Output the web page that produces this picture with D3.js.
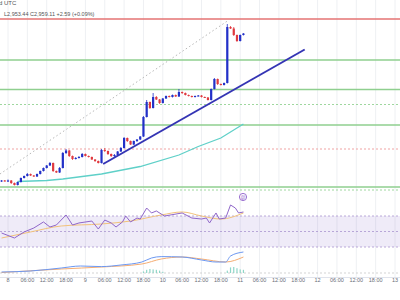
<!DOCTYPE html>
<html>
<head>
<meta charset="utf-8">
<script src="https://cdn.jsdelivr.net/npm/d3@7"></script>
<style>
  html, body { margin: 0; padding: 0; background: #fff; }
  svg { display: block; font-family: "Liberation Sans", Roboto, sans-serif; }
</style>
</head>
<body>
<svg id="chart" width="400" height="300"></svg>
<script>
// hourly candles, hour 0 = day 8 00:00 UTC
const hours = d3.range(-2, 74);
const opens = [2592.5, 2593.75, 2592.5, 2593.75, 2587.5, 2582.5, 2590, 2600, 2605, 2610,
  2606.25, 2603.75, 2610, 2617.5, 2625, 2631.25, 2637.5, 2617.5, 2613.75, 2625,
  2662.5, 2668.75, 2655, 2647.5, 2650, 2652.5, 2660, 2655, 2652.5, 2646.25,
  2642.5, 2637.5, 2670, 2667.5, 2660, 2655, 2657.5, 2666.25, 2675, 2700,
  2692.5, 2683.75, 2692.5, 2696.25, 2703.75, 2752.5, 2790, 2775, 2802.5, 2796.25,
  2787.5, 2798.75, 2805, 2802.5, 2807.5, 2803.75, 2815, 2812.5, 2807.5, 2805,
  2802.5, 2805, 2806.25, 2802.5, 2801.25, 2795, 2822.5, 2847.5, 2835, 2832.5,
  2837.5, 2977.5, 2973.75, 2957.5, 2942.5, 2957.5];
const highs = [2595, 2595, 2596.25, 2595, 2588.75, 2591.25, 2601.25, 2606.25, 2612.5, 2611.25,
  2607.5, 2611.25, 2618.75, 2626.25, 2632.5, 2640, 2638.75, 2618.75, 2627.5, 2665,
  2672.5, 2670, 2656.25, 2652.5, 2655, 2662.5, 2661.25, 2656.25, 2653.75, 2647.5,
  2643.75, 2672.5, 2675, 2668.75, 2661.25, 2660, 2667.5, 2677.5, 2702.5, 2701.25,
  2693.75, 2693.75, 2697.5, 2705, 2755, 2795, 2791.25, 2812.5, 2805, 2797.5,
  2800, 2806.25, 2806.25, 2808.75, 2808.75, 2822.5, 2816.25, 2813.75, 2808.75, 2806.25,
  2806.25, 2807.5, 2807.5, 2803.75, 2802.5, 2823.75, 2850, 2848.75, 2836.25, 2838.75,
  2985, 2980, 2977.5, 2958.75, 2958.75, 2962.5];
const lows = [2590, 2591.25, 2590, 2585, 2581.25, 2581.25, 2588.75, 2598.75, 2603.75, 2605,
  2602.5, 2602.5, 2608.75, 2616.25, 2623.75, 2630, 2615, 2612.5, 2612.5, 2623.75,
  2660, 2652.5, 2645, 2646.25, 2648.75, 2651.25, 2653.75, 2651.25, 2645, 2640,
  2636.25, 2636.25, 2665, 2657.5, 2652.5, 2652.5, 2656.25, 2665, 2673.75, 2690,
  2682.5, 2682.5, 2690, 2695, 2702.5, 2751.25, 2772.5, 2773.75, 2795, 2785,
  2786.25, 2797.5, 2801.25, 2801.25, 2802.5, 2802.5, 2810, 2806.25, 2803.75, 2801.25,
  2801.25, 2803.75, 2801.25, 2800, 2793.75, 2793.75, 2821.25, 2832.5, 2831.25, 2831.25,
  2836.25, 2972.5, 2955, 2940, 2941.25, 2956.25];
const closes = [2593.75, 2592.5, 2593.75, 2587.5, 2582.5, 2590, 2600, 2605, 2610, 2606.25,
  2603.75, 2610, 2617.5, 2625, 2631.25, 2637.5, 2617.5, 2613.75, 2625, 2662.5,
  2668.75, 2655, 2647.5, 2650, 2652.5, 2660, 2655, 2652.5, 2646.25, 2642.5,
  2637.5, 2670, 2667.5, 2660, 2655, 2657.5, 2666.25, 2675, 2700, 2692.5,
  2683.75, 2692.5, 2696.25, 2703.75, 2752.5, 2790, 2775, 2802.5, 2796.25, 2787.5,
  2798.75, 2805, 2802.5, 2807.5, 2803.75, 2815, 2812.5, 2807.5, 2805, 2802.5,
  2805, 2806.25, 2802.5, 2801.25, 2795, 2822.5, 2847.5, 2835, 2832.5, 2837.5,
  2977.5, 2973.75, 2957.5, 2942.5, 2957.5, 2961.25];

// moving average on price
const maHours = [3, 12, 17, 29, 41, 53, 59, 66, 73];
const maValues = [2591.25, 2593.75, 2597.5, 2610, 2628.75, 2657.5, 2678.75, 2700, 2735];

// drawn levels
const solidGreen = [2895, 2821.25, 2732.5, 2577.5];
const solidRed = [2997.5];
const dottedGreen = [2783.75, 2570];
const dottedRed = [2672.5];
const trendLine = [[29.5, 2635], [92, 2921.25]];
const guideLine = [[-2.5, 2610], [68.5, 2995]];

// RSI pane
const rsiHours = [-2, 2, 5, 8, 11, 13, 15, 18, 20, 22, 26, 28, 30, 32, 33.5, 35.5, 36.5, 38, 40, 41,
  43, 44.5, 46, 48.5, 54, 57, 60, 61.5, 62.5, 64.5, 65.5, 67.5, 69, 70.5, 71.5, 73];
const rsiValues = [48.1, 41.6, 49.4, 54.5, 62.3, 55.8, 58.4, 71.3, 58.4, 61, 63.5, 53.2, 64.8, 61, 55.8, 62.3, 70, 62.3, 67.4, 66.1,
  80.3, 73.9, 76.5, 70, 73.9, 67.4, 66.1, 67.4, 61, 73.9, 66.1, 67.4, 84.2, 80.3, 73.9, 75.2];
const rsiMaHours = [-2, 7, 16.5, 29, 38, 47.5, 54, 60, 66, 73];
const rsiMaValues = [41.6, 49.4, 57.1, 59.7, 63.5, 71.3, 75.2, 70, 66.1, 73.9];

// MACD pane
const macdHours = [-2, 7, 16.5, 22.5, 29, 35, 41.5, 44.5, 47.5, 54, 60, 64.5, 67.5, 69, 73];
const macdValues = [2.5, 5, 12.5, 17.5, 16, 20, 27.5, 37.5, 41, 40, 32.5, 27.5, 27.5, 42.5, 52.5];
const signalHours = [-2, 16.5, 29, 41.5, 47.5, 54, 60, 67.5, 73];
const signalValues = [1.25, 10, 15, 22.5, 35, 40, 35, 27.5, 40];
const histHours = [42, 43, 44, 45, 46, 47, 48, 68, 69, 70, 71, 72, 73];
const histValues = [4, 8, 10, 9, 8, 6, 3, 6, 14, 15, 12, 9, 8];

const tickHours = d3.range(0, 121, 6);
const tickLabels = ["8", "06:00", "12:00", "18:00", "9", "06:00", "12:00", "18:00", "10", "06:00", "12:00", "18:00",
  "11", "06:00", "12:00", "18:00", "12", "06:00", "12:00", "18:00", "13"];

const svg = d3.select("#chart");
const W = 400;

const x = d3.scaleLinear().domain([0, 120]).range([8, 395]);
const y = d3.scaleLinear().domain([2570, 3045]).range([190, 0]);
const yRsi = d3.scaleLinear().domain([30, 70]).range([247, 216]);
const yMacd = d3.scaleLinear().domain([0, 50]).range([273, 253]);

// vertical grid
svg.append("g").selectAll("line")
  .data(tickHours).enter().append("line")
  .attr("x1", d => x(d)).attr("x2", d => x(d))
  .attr("y1", 0).attr("y2", 277)
  .style("stroke", "#eef0f3").style("stroke-width", 1);

// RSI band
svg.append("rect")
  .attr("x", 0).attr("width", W)
  .attr("y", yRsi(70)).attr("height", yRsi(30) - yRsi(70))
  .style("fill", "#7e57c2").style("fill-opacity", 0.12);

svg.append("g").selectAll("line")
  .data([70, 50, 30]).enter().append("line")
  .attr("x1", 0).attr("x2", W)
  .attr("y1", d => yRsi(d)).attr("y2", d => yRsi(d))
  .style("stroke", "#a995cf").style("stroke-width", 0.8)
  .style("stroke-dasharray", "2,2");

// MACD zero line
svg.append("line")
  .attr("x1", 0).attr("x2", W)
  .attr("y1", yMacd(0)).attr("y2", yMacd(0))
  .style("stroke", "#c8c8c8").style("stroke-width", 0.8)
  .style("stroke-dasharray", "2,2");

// price levels
function hLines(vals, color, width, dash) {
  svg.append("g").selectAll("line")
    .data(vals).enter().append("line")
    .attr("x1", 0).attr("x2", W)
    .attr("y1", d => y(d)).attr("y2", d => y(d))
    .style("stroke", color).style("stroke-width", width)
    .style("stroke-dasharray", dash);
}
hLines(solidRed, "#e57373", 1.6, null);
hLines(solidGreen, "#8fcf8f", 1.5, null);
hLines(dottedGreen, "#9fd79f", 1, "2,2");
hLines(dottedRed, "#f0a3a3", 1, "2,2");

// dotted guide
svg.append("line")
  .attr("x1", x(guideLine[0][0])).attr("y1", y(guideLine[0][1]))
  .attr("x2", x(guideLine[1][0])).attr("y2", y(guideLine[1][1]))
  .style("stroke", "#b8b8b8").style("stroke-width", 1)
  .style("stroke-dasharray", "1.5,2.5");

// moving average
svg.append("path")
  .datum(maHours.map((h, i) => [h, maValues[i]]))
  .attr("d", d3.line().x(d => x(d[0])).y(d => y(d[1])))
  .style("fill", "none").style("stroke", "#5fd0c8").style("stroke-width", 1.3);

// candles
const candles = hours.map((h, i) => ({ h: h, o: opens[i], hi: highs[i], lo: lows[i], c: closes[i] }));
const cg = svg.append("g").selectAll("g").data(candles).enter().append("g");
const col = d => d.c >= d.o ? "#2230c8" : "#e0393f";
cg.append("line")
  .attr("x1", d => x(d.h)).attr("x2", d => x(d.h))
  .attr("y1", d => y(d.hi)).attr("y2", d => y(d.lo))
  .style("stroke", col).style("stroke-width", 0.8);
cg.append("rect")
  .attr("x", d => x(d.h) - 1.1).attr("width", 2.2)
  .attr("y", d => y(Math.max(d.o, d.c)))
  .attr("height", d => Math.max(1, Math.abs(y(d.o) - y(d.c))))
  .style("fill", col);

// trend line
svg.append("line")
  .attr("x1", x(trendLine[0][0])).attr("y1", y(trendLine[0][1]))
  .attr("x2", x(trendLine[1][0])).attr("y2", y(trendLine[1][1]))
  .style("stroke", "#3434b4").style("stroke-width", 2);

// RSI lines
svg.append("path")
  .datum(rsiMaHours.map((h, i) => [h, rsiMaValues[i]]))
  .attr("d", d3.line().curve(d3.curveMonotoneX).x(d => x(d[0])).y(d => yRsi(d[1])))
  .style("fill", "none").style("stroke", "#f2c27a").style("stroke-width", 1);
svg.append("path")
  .datum(rsiHours.map((h, i) => [h, rsiValues[i]]))
  .attr("d", d3.line().x(d => x(d[0])).y(d => yRsi(d[1])))
  .style("fill", "none").style("stroke", "#8f66c9").style("stroke-width", 1);

// alert icon
const icon = svg.append("g").attr("transform", "translate(243,197)");
icon.append("circle").attr("r", 3.6).style("fill", "#fff").style("stroke", "#9a6fd0").style("stroke-width", 1);
icon.append("text").attr("text-anchor", "middle").attr("dy", "0.35em")
  .style("font-size", "5px").style("fill", "#9a6fd0").text("@");

// MACD
svg.append("g").selectAll("rect")
  .data(histHours.map((h, i) => [h, histValues[i]])).enter().append("rect")
  .attr("x", d => x(d[0]) - 0.6).attr("width", 1.2)
  .attr("y", d => yMacd(d[1])).attr("height", d => yMacd(0) - yMacd(d[1]))
  .style("fill", "#8fd6c8");
svg.append("path")
  .datum(signalHours.map((h, i) => [h, signalValues[i]]))
  .attr("d", d3.line().curve(d3.curveMonotoneX).x(d => x(d[0])).y(d => yMacd(d[1])))
  .style("fill", "none").style("stroke", "#f5ad73").style("stroke-width", 1);
svg.append("path")
  .datum(macdHours.map((h, i) => [h, macdValues[i]]))
  .attr("d", d3.line().curve(d3.curveMonotoneX).x(d => x(d[0])).y(d => yMacd(d[1])))
  .style("fill", "none").style("stroke", "#6c98f2").style("stroke-width", 1);

// time axis
svg.append("line").attr("x1", 0).attr("x2", W).attr("y1", 277.5).attr("y2", 277.5)
  .style("stroke", "#e0e3eb");
svg.append("g").selectAll("text")
  .data(tickHours).enter().append("text")
  .attr("x", d => x(d)).attr("y", 282)
  .attr("text-anchor", "middle")
  .style("font-size", "5.5px").style("fill", "#6a6d78")
  .text((d, i) => tickLabels[i]);

// header
svg.append("text").attr("x", -1).attr("y", 5)
  .style("font-size", "6px").style("fill", "#555").text("d UTC");
svg.append("text").attr("x", 4).attr("y", 16)
  .style("font-size", "5.5px").style("fill", "#555")
  .text("L2,953.44  C2,959.11  +2.59 (+0.09%)");
</script>
</body>
</html>
